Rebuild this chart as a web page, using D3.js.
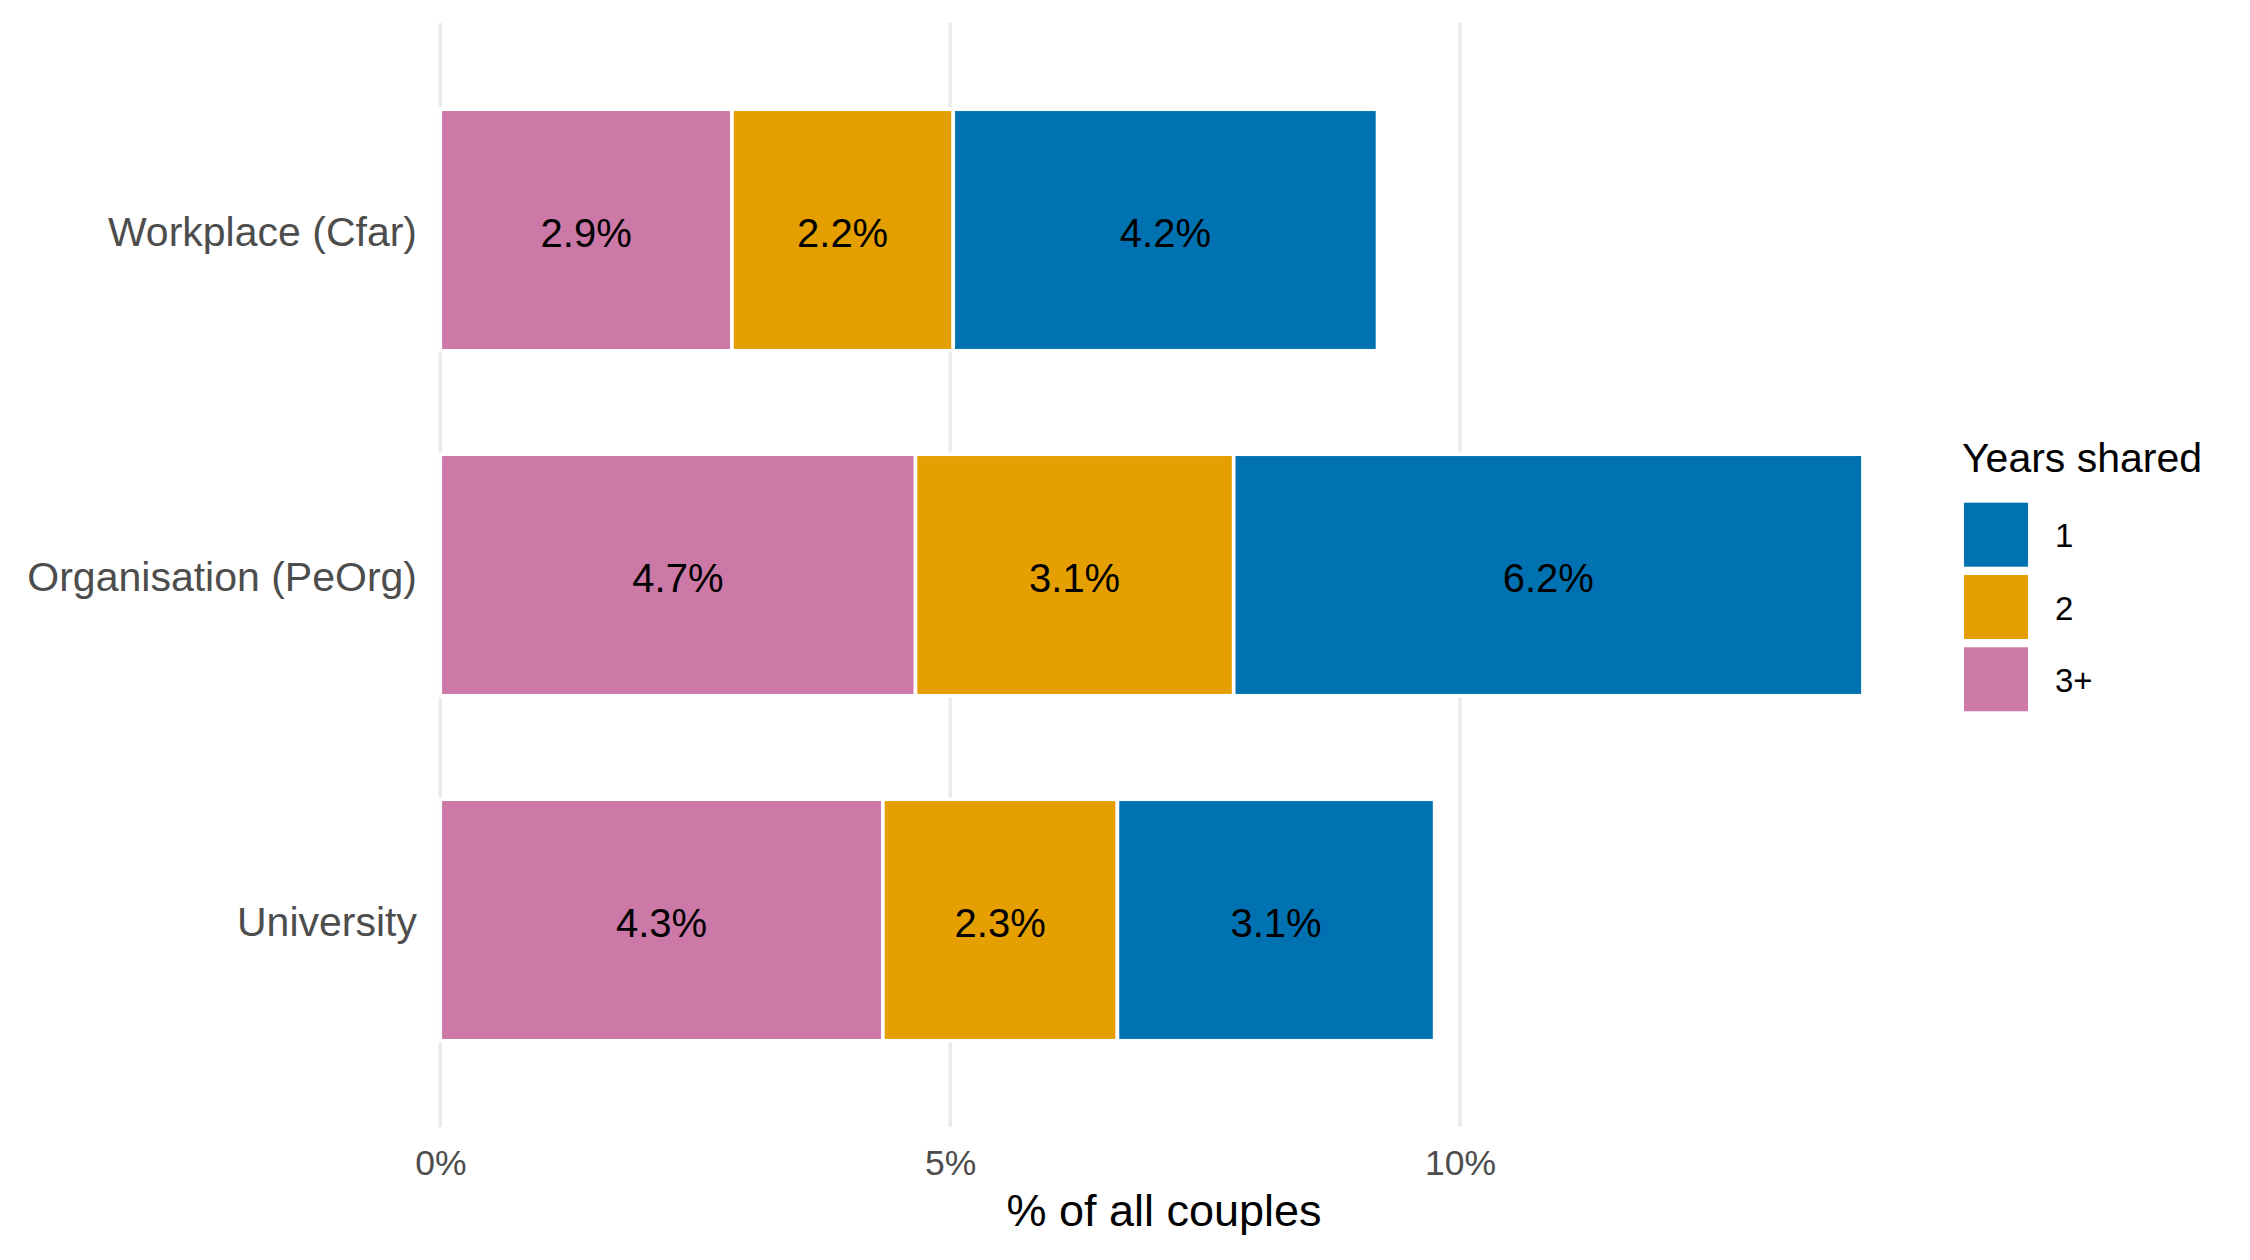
<!DOCTYPE html>
<html>
<head>
<meta charset="utf-8">
<script src="https://cdn.jsdelivr.net/npm/d3@7"></script>
<style>
  body { margin: 0; background: #fff; }
  text { font-family: "Liberation Sans", Arial, sans-serif; }
</style>
</head>
<body>
<svg id="chart" width="2250" height="1260"></svg>
<script>
// data (% of all couples)
var categories = ["Workplace (Cfar)", "Organisation (PeOrg)", "University"];
var groups = ["3+", "2", "1"];            // stacking order, left to right
var legendOrder = ["1", "2", "3+"];
var share3plus = [2.86, 4.66, 4.34];
var share2 = [2.17, 3.12, 2.30];
var share1 = [4.16, 6.17, 3.11];
var xTicks = [0, 5, 10];
var colors = {"1": "#0072B2", "2": "#E69F00", "3+": "#CC79A7"};

var rows = categories.map(function (c, i) {
    return {cat: c, "3+": share3plus[i], "2": share2[i], "1": share1[i]};
});

var svg = d3.select("#chart");
var panelTop = 23, panelBottom = 1127;

var x = d3.scaleLinear()
    .domain([0, 10])
    .range([440.3, 1460.1]);

var y = d3.scaleBand()
    .domain(categories)
    .range([panelTop, panelBottom])
    .paddingInner(0.3)
    .paddingOuter(0.25);

// vertical grid lines
svg.append("g").selectAll("line")
    .data(xTicks)
    .enter().append("line")
    .attr("x1", function (d) { return x(d); })
    .attr("x2", function (d) { return x(d); })
    .attr("y1", panelTop)
    .attr("y2", panelBottom)
    .attr("stroke", "#EBEBEB")
    .attr("stroke-width", 3.5);

var stacked = d3.stack().keys(groups)(rows);
var fmt = d3.format(".1f");

var layer = svg.append("g").selectAll("g")
    .data(stacked)
    .enter().append("g")
    .attr("fill", function (d) { return colors[d.key]; });

layer.selectAll("rect")
    .data(function (d) { return d; })
    .enter().append("rect")
    .attr("x", function (d) { return x(d[0]); })
    .attr("y", function (d) { return y(d.data.cat); })
    .attr("width", function (d) { return x(d[1]) - x(d[0]); })
    .attr("height", y.bandwidth())
    .attr("stroke", "#fff")
    .attr("stroke-width", 3.6);

layer.selectAll("text")
    .data(function (d) { return d; })
    .enter().append("text")
    .attr("x", function (d) { return (x(d[0]) + x(d[1])) / 2; })
    .attr("y", function (d) { return y(d.data.cat) + y.bandwidth() / 2; })
    .attr("dy", "0.42em")
    .attr("text-anchor", "middle")
    .attr("fill", "#000")
    .style("font-size", "40px")
    .text(function (d) { return fmt(d[1] - d[0]) + "%"; });

// x axis
var xAxis = svg.append("g")
    .attr("transform", "translate(0," + panelBottom + ")")
    .call(d3.axisBottom(x).tickValues(xTicks).tickSize(0).tickPadding(23)
        .tickFormat(function (d) { return d + "%"; }));
xAxis.select(".domain").remove();
xAxis.selectAll("text")
    .attr("fill", "#4D4D4D")
    .style("font-size", "35.5px")
    .style("font-family", "Liberation Sans, Arial, sans-serif");

// y axis
var yAxis = svg.append("g")
    .attr("transform", "translate(440,0)")
    .call(d3.axisLeft(y).tickSize(0).tickPadding(23));
yAxis.select(".domain").remove();
yAxis.selectAll("text")
    .attr("dy", "0.4em")
    .attr("fill", "#4D4D4D")
    .style("font-size", "41px")
    .style("font-family", "Liberation Sans, Arial, sans-serif");

svg.append("text")
    .attr("x", 1164)
    .attr("y", 1226)
    .attr("text-anchor", "middle")
    .attr("fill", "#000")
    .style("font-size", "45px")
    .text("% of all couples");

// legend
var legend = svg.append("g").attr("transform", "translate(1962,0)");
legend.append("text")
    .attr("x", 0)
    .attr("y", 472)
    .attr("fill", "#000")
    .style("font-size", "41px")
    .text("Years shared");

var key = legend.selectAll(".key")
    .data(legendOrder)
    .enter().append("g")
    .attr("class", "key")
    .attr("transform", function (d, i) { return "translate(2," + (502.7 + i * 72.3) + ")"; });
key.append("rect")
    .attr("width", 64)
    .attr("height", 64)
    .attr("fill", function (d) { return colors[d]; });
key.append("text")
    .attr("x", 91)
    .attr("y", 32)
    .attr("dy", "0.38em")
    .attr("fill", "#000")
    .style("font-size", "33px")
    .text(function (d) { return d; });
</script>
</body>
</html>
